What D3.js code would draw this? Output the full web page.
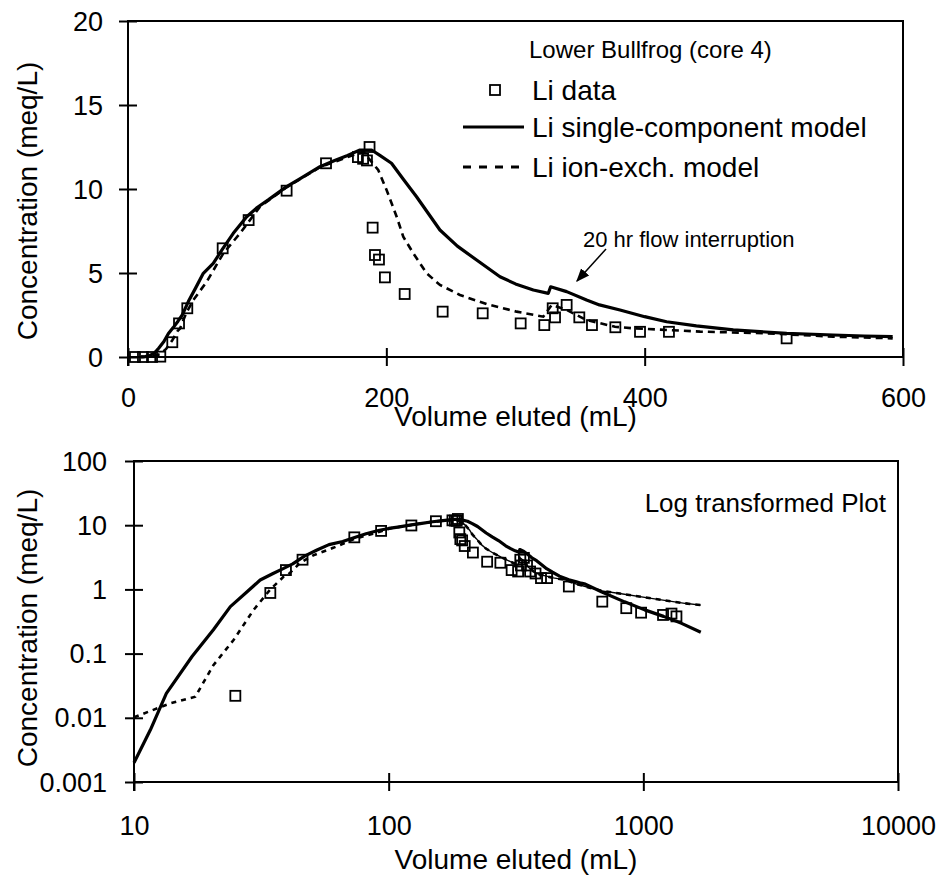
<!DOCTYPE html>
<html>
<head>
<meta charset="utf-8">
<script src="https://cdn.jsdelivr.net/npm/d3@7"></script>
<style>
  body { margin: 0; background: #fff; }
  svg text { font-family: "Liberation Sans", Arial, sans-serif; fill: #000; }
</style>
</head>
<body>
<svg id="chart" width="942" height="875"></svg>
<script>
// Li breakthrough, Lower Bullfrog core 4
var dataVol  = [5.4, 11.6, 18.6, 25, 34.3, 39.5, 45.9, 73.3, 93.4, 122.8, 153.3, 178, 182, 185, 187,
                189.4, 191.2, 194.3, 198.9, 214.2, 243.6, 274.6, 304, 322.3, 328.8, 330.6, 339.6,
                349.4, 359.2, 377.3, 396.4, 418.8, 509.9, 690, 857, 980, 1195, 1290, 1349];
var dataConc = [0, 0, 0, 0.022, 0.88, 2.0, 2.9, 6.47, 8.15, 9.9, 11.53, 11.9, 11.8, 11.7, 12.5,
                7.7, 6.07, 5.8, 4.74, 3.75, 2.7, 2.6, 2.0, 1.9, 2.9, 2.36, 3.1,
                2.36, 1.9, 1.77, 1.5, 1.5, 1.11, 0.645, 0.51, 0.434, 0.4, 0.42, 0.38];

var singleVol  = [10, 11.6, 13.4, 16.9, 20.5, 23.9, 27.8, 31.3, 35, 38.7, 42, 46.7, 52.3, 58.3, 66, 73, 81.5,
                  91.9, 100, 108.6, 122.8, 133, 148.6, 160, 170, 179.6, 188.6, 195, 204, 213, 223.4,
                  241.5, 255, 269.9, 288, 300, 313.8, 325.4, 327.2, 339.6, 355, 365, 380.9, 400, 417,
                  440, 468.6, 510, 546, 570, 592, 684, 844, 1012, 1200, 1413, 1681];
var singleConc = [0.002, 0.0065, 0.024, 0.09, 0.235, 0.54, 0.92, 1.4, 1.75, 2.13, 2.5, 3.3, 4.1, 4.98, 5.58, 6.4, 7.36,
                  8.35, 8.9, 9.35, 10.14, 10.6, 11.33, 11.7, 12.0, 12.32, 12.32, 12.0, 11.53, 10.6, 9.54,
                  7.56, 6.6, 5.77, 4.78, 4.35, 3.99, 3.79, 4.18, 3.89, 3.39, 3.1, 2.8, 2.4, 2.1,
                  1.85, 1.61, 1.41, 1.31, 1.25, 1.21, 0.92, 0.64, 0.48, 0.38, 0.296, 0.215];

var ionVol  = [10, 13.9, 17.4, 20.5, 24.6, 29.5, 34.3, 38.7, 40.3, 45, 50.6, 60.9, 73.8, 86.7, 102.2,
               122.8, 148.6, 170, 182.2, 193.7, 200.2, 208, 213.1, 220.9, 231.2, 241.5, 257, 277.7,
               300.9, 321.5, 328, 339.6, 355, 377, 391, 443, 494.5, 546, 592, 684, 795, 1074, 1455, 1681];
var ionConc = [0.0102, 0.0168, 0.0213, 0.066, 0.163, 0.48, 1.0, 1.58, 1.7, 2.6, 3.39, 4.48, 6.17, 7.36, 8.95,
               10.1, 11.3, 11.9, 12.22, 11.13, 9.94, 8.35, 7.16, 6.17, 4.98, 4.29, 3.69, 3.15,
               2.7, 2.4, 3.1, 2.8, 2.2, 1.8, 1.71, 1.51, 1.41, 1.21, 1.11, 0.95, 0.87, 0.726, 0.607, 0.57];

var linXTicks = [0, 200, 400, 600];
var linYTicks = [0, 5, 10, 15, 20];
var logXTicks = [10, 100, 1000, 10000];
var logYTicks = [0.001, 0.01, 0.1, 1, 10, 100];

var legendLabels = ["Li data", "Li single-component model", "Li ion-exch. model"];

var points = d3.zip(dataVol, dataConc);
var single = d3.zip(singleVol, singleConc);
var ion = d3.zip(ionVol, ionConc);

var svg = d3.select("#chart");

svg.append("defs").append("marker")
    .attr("id", "arrow")
    .attr("viewBox", "0 0 10 10")
    .attr("refX", 9).attr("refY", 5)
    .attr("markerWidth", 9).attr("markerHeight", 9)
    .attr("orient", "auto")
  .append("path")
    .attr("d", "M0,1 L10,5 L0,9 Z")
    .attr("fill", "#000");

function drawPanel(x, y, xTicks, yTicks, opts) {
  var g = svg.append("g");
  var x0 = x.range()[0], x1 = x.range()[1];
  var yb = y.range()[0], yt = y.range()[1];

  // x axis, ticks cross the line
  var ax = g.append("g")
      .attr("transform", "translate(0," + yb + ")")
      .call(d3.axisBottom(x).tickValues(xTicks).tickSizeOuter(0).tickFormat(function(d) { return String(d); }));
  ax.select(".domain").remove();
  ax.selectAll("line").attr("y1", -9).attr("y2", 9).attr("stroke-width", 2);
  ax.selectAll("text").attr("font-size", 27).attr("dy", 0).attr("y", opts.xLabelY);

  var ay = g.append("g")
      .attr("transform", "translate(" + x0 + ",0)")
      .call(d3.axisLeft(y).tickValues(yTicks).tickSizeOuter(0).tickFormat(function(d) { return String(d); }));
  ay.select(".domain").remove();
  ay.selectAll("line").attr("x1", 9).attr("x2", -9).attr("stroke-width", 2);
  ay.selectAll("text").attr("font-size", 27).attr("x", -opts.yLabelPad).attr("dy", "0.34em");

  // frame
  g.append("rect")
      .attr("x", x0).attr("y", yt)
      .attr("width", x1 - x0).attr("height", yb - yt)
      .attr("fill", "none").attr("stroke", "#000").attr("stroke-width", 2);
  // left axis runs a bit past the bottom
  g.append("line").attr("x1", x0).attr("x2", x0).attr("y1", yt).attr("y2", yb + 9)
      .attr("stroke", "#000").attr("stroke-width", 2);

  var line = d3.line().x(function(d) { return x(d[0]); }).y(function(d) { return y(d[1]); });

  g.append("path").datum(single.filter(opts.keep))
      .attr("d", line).attr("fill", "none")
      .attr("stroke", "#000").attr("stroke-width", 3.2).attr("stroke-linejoin", "round");

  if (opts.thinFrom) {
    // log panel: past the peak the ion-exch curve shows as a thin line with dash ticks on it
    g.append("path").datum(ion.filter(function(d) { return opts.keep(d) && d[0] >= opts.thinFrom; }))
        .attr("d", line).attr("fill", "none")
        .attr("stroke", "#000").attr("stroke-width", 1.4);
  }
  g.append("path").datum(ion.filter(opts.keep))
      .attr("d", line).attr("fill", "none")
      .attr("stroke", "#000").attr("stroke-width", opts.dashWidth)
      .attr("stroke-dasharray", opts.dash);

  g.selectAll(".pt").data(points.filter(opts.keep)).enter()
    .append("rect")
      .attr("x", function(d) { return x(d[0]) - 5; })
      .attr("y", function(d) { return y(d[1]) - 5; })
      .attr("width", 10).attr("height", 10)
      .attr("fill", "none").attr("stroke", "#000").attr("stroke-width", 1.8);

  g.append("text")
      .attr("x", (x0 + x1) / 2).attr("y", opts.titleY)
      .attr("text-anchor", "middle").attr("font-size", 28)
      .text("Volume eluted (mL)");

  g.append("text")
      .attr("transform", "translate(27," + opts.yTitleMid + ") rotate(-90)")
      .attr("text-anchor", "middle").attr("dy", "0.35em").attr("font-size", 28)
      .text("Concentration (meq/L)");

  return g;
}

// top: linear
var xLin = d3.scaleLinear().domain([0, 600]).range([128, 903]);
var yLin = d3.scaleLinear().domain([0, 20]).range([357, 21]);
var topG = drawPanel(xLin, yLin, linXTicks, linYTicks, {
  keep: function(d) { return d[0] <= 595; },
  dash: "7,5",
  dashWidth: 2.6,
  xLabelY: 50,
  yLabelPad: 25,
  titleY: 426,
  yTitleMid: 201
});

topG.append("text").attr("x", 529).attr("y", 58).attr("font-size", 24)
    .text("Lower Bullfrog (core 4)");

var legY = [90, 127, 167];
topG.append("rect").attr("x", 490).attr("y", legY[0] - 5).attr("width", 10).attr("height", 10)
    .attr("fill", "none").attr("stroke", "#000").attr("stroke-width", 1.8);
topG.append("line").attr("x1", 463).attr("x2", 524).attr("y1", legY[1]).attr("y2", legY[1])
    .attr("stroke", "#000").attr("stroke-width", 3.2);
topG.append("line").attr("x1", 463).attr("x2", 524).attr("y1", legY[2]).attr("y2", legY[2])
    .attr("stroke", "#000").attr("stroke-width", 3.2).attr("stroke-dasharray", "8,8");
topG.selectAll(".leg").data(legendLabels).enter()
  .append("text")
    .attr("x", 532).attr("y", function(d, i) { return legY[i] + 10; })
    .attr("font-size", 28)
    .text(function(d) { return d; });

topG.append("text").attr("x", 583).attr("y", 247).attr("font-size", 22)
    .text("20 hr flow interruption");
topG.append("line").attr("x1", 606).attr("y1", 249).attr("x2", 577).attr("y2", 281)
    .attr("stroke", "#000").attr("stroke-width", 1.5).attr("marker-end", "url(#arrow)");

// bottom: log-log
var xLog = d3.scaleLog().domain([10, 10000]).range([134, 898]);
var yLog = d3.scaleLog().domain([0.001, 100]).range([782, 461]);
var botG = drawPanel(xLog, yLog, logXTicks, logYTicks, {
  keep: function(d) { return d[1] > 0; },
  dash: "5,5",
  dashWidth: 2.6,
  thinFrom: 182,
  xLabelY: 53,
  yLabelPad: 27,
  titleY: 869,
  yTitleMid: 628
});

botG.append("text").attr("x", 886).attr("y", 512).attr("text-anchor", "end").attr("font-size", 26)
    .text("Log transformed Plot");
</script>
</body>
</html>
